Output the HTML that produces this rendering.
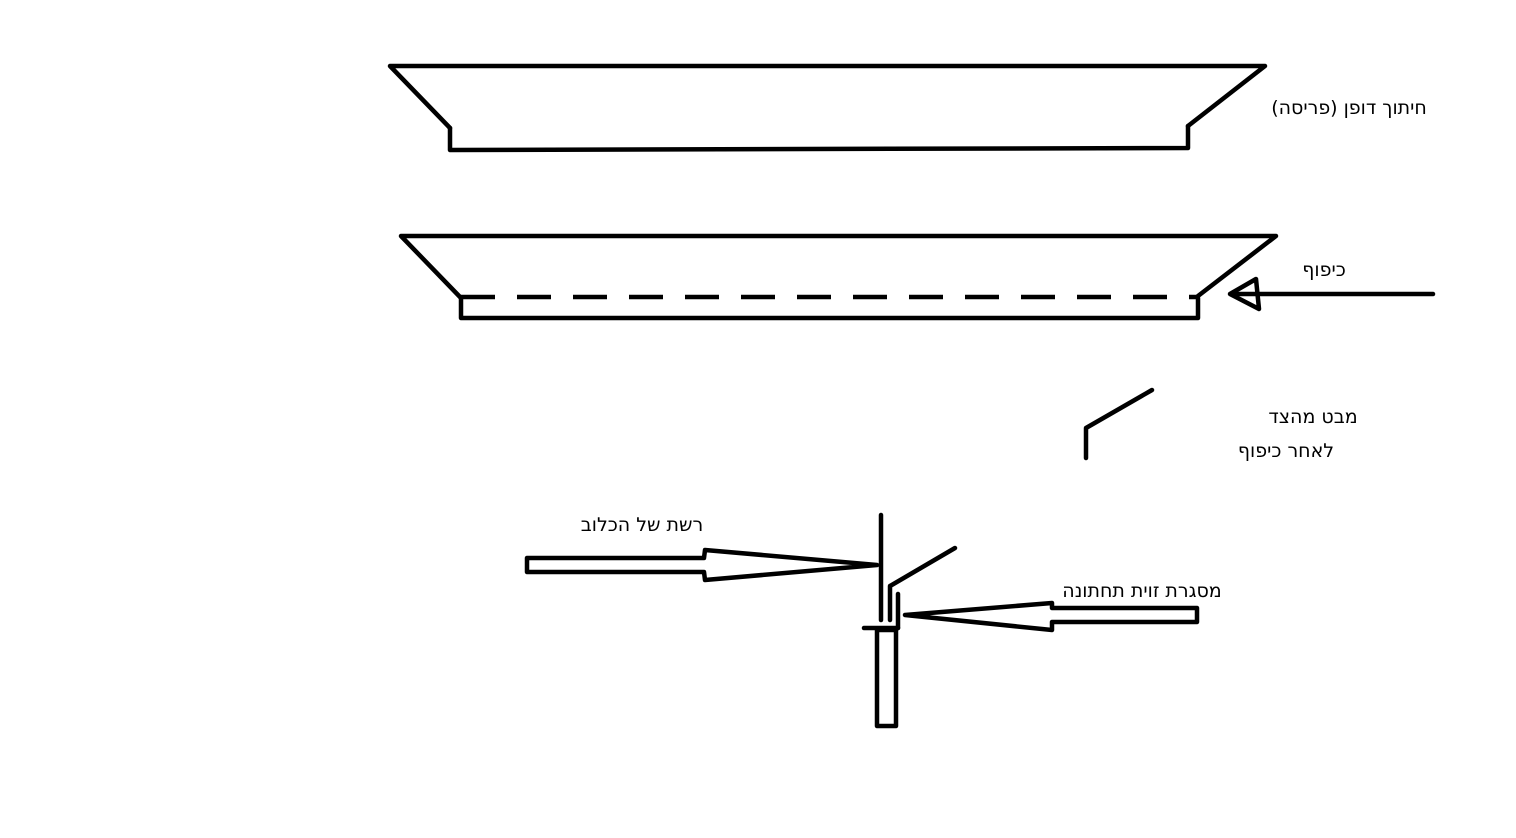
<!DOCTYPE html>
<html><head><meta charset="utf-8"><style>body{margin:0;background:#fff}svg{display:block}text{font-family:"DejaVu Sans","Liberation Sans",sans-serif;font-size:19px;fill:#000}</style></head>
<body>
<svg width="1516" height="838" viewBox="0 0 1516 838" xmlns="http://www.w3.org/2000/svg">
<g fill="none" stroke="#000" stroke-width="4.5" stroke-linejoin="round" stroke-linecap="round">
<polyline points="450,128 390,66 1265,66 1188,126"/>
<polyline points="450,128 450,150 1188,148 1188,126"/>
<polyline points="461,298 401,236 1276,236 1198,296"/>
<polyline points="461,298 461,318 1198,318 1198,298"/>
<line x1="461" y1="297" x2="1198" y2="297" stroke-dasharray="34,22" stroke-linecap="butt"/>
<line x1="1232" y1="294" x2="1433" y2="294"/>
<polygon points="1230,294 1256,279 1259,309"/>
<polyline points="1086,458 1086,428 1152,390"/>
<line x1="881" y1="515" x2="881" y2="620"/>
<polyline points="890,620 890,586 955,548"/>
<line x1="898" y1="594" x2="898" y2="628"/>
<line x1="864" y1="628" x2="898" y2="628"/>
<rect x="877" y="630" width="19" height="96"/>
<polygon points="527,558 704,558 705,550 877,565 705,580 704,572 527,572"/>
<polygon points="905,615 1052,603 1052,608 1197,608 1197,622 1052,622 1052,630"/>
</g>
<text x="1349" y="114" text-anchor="middle">חיתוך דופן (פריסה)</text>
<text x="1324" y="276" text-anchor="middle">כיפוף</text>
<text x="1313" y="423" text-anchor="middle">מבט מהצד</text>
<text x="1286" y="457" text-anchor="middle">לאחר כיפוף</text>
<text x="642" y="531" text-anchor="middle">רשת של הכלוב</text>
<text x="1142" y="597" text-anchor="middle">מסגרת זוית תחתונה</text>
</svg>
</body></html>
